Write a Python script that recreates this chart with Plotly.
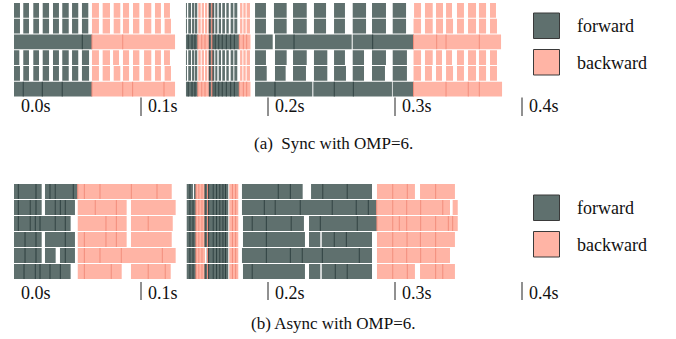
import plotly.graph_objects as go

# ---------------- data (times in ms) ----------------
rows = [1, 2, 3, 4, 5, 6]
tick_values = [0, 100, 200, 300, 400]
tick_labels = ["0.0s", "0.1s", "0.2s", "0.3s", "0.4s"]
legend_labels = ["forward", "backward"]
captions = ["(a)  Sync with OMP=6.", "(b) Async with OMP=6."]

FWD_COLOR = "#5f706e"
BWD_COLOR = "#ffb4a5"
FWD_EDGE = "#2c3e3e"
BWD_EDGE = "#f38c7a"

# dense (small-batch) section of the Sync run
sync_dense_fwd_split = [[135.4, 136.2], [137.2, 139.4], [140.2, 142.0], [142.5, 144.3],
                        [153.8, 155.7], [156.5, 157.7], [158.5, 160.1], [161.2, 163.0],
                        [164.0, 166.1], [167.2, 169.1], [170.6, 172.7], [173.5, 175.8]]
sync_dense_bwd_split = [[145.1, 147.0], [147.8, 149.6], [150.4, 152.2], [153.0, 153.8],
                        [155.7, 156.5], [178.0, 179.8], [180.6, 182.4], [183.2, 185.8]]
sync_dense_fwd_cont = [[135.4, 137.2], [137.2, 140.2], [140.2, 142.5], [142.5, 144.8],
                       [153.8, 155.7], [156.5, 158.5], [158.5, 161.2], [161.2, 164.0],
                       [164.0, 167.2], [167.2, 170.6], [170.6, 173.5], [173.5, 177.4]]
sync_dense_bwd_cont = [[144.8, 147.8], [147.8, 150.4], [150.4, 153.8], [155.7, 156.5],
                       [177.4, 180.6], [180.6, 183.2], [183.2, 186.2]]

sync_fwd = {
    1: [[0, 4.7], [7.3, 11.8], [15.2, 19.7], [22.6, 27.6], [30.7, 35.4], [38.0, 43.1], [45.7, 50.6], [53.5, 58.5]]
       + sync_dense_fwd_split
       + [[189.8, 198.4], [204.7, 214.7], [219.7, 230.5], [236.2, 245.7], [252.0, 260.6], [266.7, 277.2], [281.9, 292.9], [298.2, 308.7]],
    2: [[0, 4.7], [7.3, 11.8], [15.2, 19.7], [22.6, 27.6], [30.7, 35.4], [38.0, 43.1], [45.7, 50.6], [53.5, 58.5]]
       + sync_dense_fwd_split
       + [[189.8, 198.4], [204.7, 214.7], [219.7, 230.5], [236.2, 245.7], [252.0, 260.6], [266.7, 277.2], [281.9, 292.9], [298.2, 308.7]],
    3: [[0, 53.8], [53.8, 61.4]]
       + sync_dense_fwd_cont
       + [[189.8, 203.7], [205.5, 220.5], [220.5, 265.9], [266.7, 282.4], [282.4, 314.6]],
    4: [[0, 4.2], [7.3, 11.8], [15.2, 19.7], [22.6, 27.6], [30.7, 35.4], [38.0, 43.1], [45.7, 50.6], [53.5, 59.1]]
       + sync_dense_fwd_split
       + [[189.8, 198.4], [205.5, 214.7], [219.7, 230.5], [236.2, 246.7], [252.0, 260.6], [266.7, 275.6], [281.9, 292.9], [298.2, 309.4]],
    5: [[0, 4.7], [7.3, 11.8], [15.2, 19.7], [22.6, 27.6], [30.7, 35.4], [38.0, 43.1], [45.7, 50.6], [53.5, 59.1]]
       + sync_dense_fwd_split
       + [[189.8, 199.0], [205.5, 213.9], [219.7, 229.9], [236.2, 246.7], [252.0, 261.4], [266.7, 275.6], [281.9, 292.1], [298.2, 309.4]],
    6: [[0, 7.3], [7.3, 22.3], [22.3, 38.0], [38.0, 61.4]]
       + sync_dense_fwd_cont
       + [[189.8, 205.5], [205.5, 234.9], [235.7, 252.2], [252.2, 267.2], [267.2, 297.6], [298.2, 314.6]],
}
sync_bwd = {
    1: [[61.4, 66.9], [69.8, 75.6], [78.5, 83.7], [85.8, 90.6], [93.7, 98.7], [102.4, 108.1], [111.0, 115.7], [118.1, 122.8]]
       + sync_dense_bwd_split
       + [[315.0, 320.5], [323.6, 329.7], [332.3, 337.8], [340.2, 344.9], [348.8, 354.3], [357.5, 363.8], [366.1, 371.7], [374.8, 379.5]],
    2: [[61.4, 66.9], [69.8, 75.6], [78.5, 83.7], [85.8, 90.6], [93.7, 98.7], [102.4, 108.1], [111.0, 115.7], [118.6, 123.6]]
       + sync_dense_bwd_split
       + [[314.6, 320.5], [323.6, 329.7], [332.3, 337.8], [340.2, 345.7], [348.8, 354.3], [357.5, 363.8], [366.1, 371.7], [374.8, 380.3]],
    3: [[61.4, 85.6], [85.6, 126.8]]
       + sync_dense_bwd_cont
       + [[314.6, 332.8], [332.8, 340.2], [340.2, 366.4], [366.4, 383.5]],
    4: [[61.4, 66.9], [69.8, 75.6], [78.0, 82.7], [85.8, 90.6], [93.7, 98.7], [102.4, 108.1], [111.0, 115.7], [118.1, 122.8]]
       + sync_dense_bwd_split
       + [[314.6, 320.5], [323.6, 329.7], [332.3, 337.0], [340.2, 344.9], [348.8, 354.3], [357.5, 363.8], [366.1, 371.7], [374.8, 380.3]],
    5: [[61.4, 66.9], [69.8, 75.6], [78.5, 83.7], [85.8, 90.6], [93.7, 98.7], [102.4, 108.1], [111.0, 115.7], [118.6, 123.6]]
       + sync_dense_bwd_split
       + [[314.6, 320.5], [323.6, 329.1], [332.3, 337.0], [340.2, 345.7], [348.8, 354.3], [357.5, 363.8], [366.1, 371.7], [374.8, 380.3]],
    6: [[61.4, 85.6], [85.6, 93.4], [93.4, 118.1], [118.1, 126.8]]
       + sync_dense_bwd_cont
       + [[314.6, 340.2], [340.2, 357.7], [357.7, 366.4], [366.4, 384.3]],
}

# dense section of the Async run
async_dense_fwd = [[136.0, 138.5], [138.5, 141.0], [141.0, 143.3], [150.4, 152.4], [153.2, 156.9],
                   [156.9, 159.5], [159.5, 162.0], [162.0, 164.5], [164.5, 166.5], [166.5, 168.7]]
async_dense_fwd_r1 = [[136.0, 138.5], [138.5, 140.9], [141.7, 143.3], [150.4, 152.4], [153.2, 156.9],
                      [156.9, 159.5], [159.5, 162.0], [162.0, 164.5], [164.5, 166.5], [166.5, 168.7]]
async_dense_fwd_r5 = [[136.0, 138.5], [138.5, 141.0], [141.0, 143.3], [151.7, 152.4], [153.2, 156.9],
                      [156.9, 159.5], [159.5, 162.0], [162.0, 164.5], [164.5, 166.5], [166.5, 168.7]]
async_dense_bwd = [[143.3, 145.5], [145.5, 148.0], [148.0, 150.4], [152.4, 153.2],
                   [169.5, 172.0], [172.0, 174.5], [174.5, 176.6]]

async_fwd = {
    1: [[0, 3.4], [3.4, 17.3], [17.3, 21.8], [24.4, 28.3], [28.3, 32.5], [32.5, 46.7], [46.7, 50.2]]
       + async_dense_fwd_r1
       + [[179.5, 208.1], [208.1, 217.6], [217.6, 227.3], [233.9, 243.1], [243.1, 262.4], [262.4, 281.9]],
    2: [[0, 3.4], [3.4, 12.8], [12.8, 17.3], [17.3, 21.8], [24.4, 32.5], [32.5, 36.5], [36.5, 40.4], [40.4, 48.0]]
       + async_dense_fwd
       + [[179.5, 197.1], [197.1, 205.7], [205.7, 225.4], [225.4, 250.6], [250.6, 269.5], [269.5, 279.0], [279.0, 285.6]],
    3: [[0, 3.4], [3.4, 12.8], [12.8, 16.8], [16.8, 20.5], [20.5, 32.5], [32.5, 40.4], [40.4, 44.6]]
       + async_dense_fwd
       + [[180.3, 187.6], [187.6, 198.7], [198.7, 218.3], [218.3, 228.3], [232.3, 241.2], [241.2, 270.3], [270.3, 285.8]],
    4: [[0, 8.7], [8.7, 17.3], [17.3, 21.8], [24.4, 40.4], [40.4, 48.0]]
       + async_dense_fwd
       + [[180.3, 198.7], [198.7, 229.1], [232.3, 241.2], [242.3, 252.2], [252.2, 261.7], [261.7, 281.9]],
    5: [[0, 8.7], [8.7, 17.3], [17.3, 21.8], [24.4, 32.8], [36.2, 40.4], [40.4, 48.0]]
       + async_dense_fwd_r5
       + [[179.5, 198.7], [198.7, 217.6], [217.6, 227.0], [227.0, 242.8], [242.8, 271.9], [271.9, 281.9]],
    6: [[0, 7.9], [7.9, 16.8], [16.8, 20.5], [20.5, 28.3], [28.3, 36.5], [36.5, 44.6]]
       + async_dense_fwd
       + [[180.3, 187.6], [187.6, 229.1], [232.3, 241.2], [242.3, 253.0], [253.0, 262.4], [262.4, 281.9]],
}
async_bwd = {
    1: [[50.2, 55.4], [55.4, 67.7], [67.7, 92.4], [92.4, 112.6], [112.6, 124.2]]
       + async_dense_bwd
       + [[285.8, 298.2], [298.2, 309.7], [309.7, 315.7], [319.7, 332.0], [332.0, 347.2]],
    2: [[50.2, 64.0], [64.0, 80.6], [80.6, 88.7], [92.1, 127.3]]
       + async_dense_bwd
       + [[285.6, 298.2], [298.2, 309.2], [309.2, 320.2], [320.2, 337.6], [337.6, 343.3], [345.4, 349.4]],
    3: [[50.2, 72.4], [72.4, 80.6], [80.6, 88.7], [92.1, 105.7], [105.7, 125.0]]
       + async_dense_bwd
       + [[285.8, 298.2], [298.2, 303.4], [303.4, 309.2], [309.2, 320.2], [320.2, 332.0], [332.0, 342.0], [342.0, 345.4], [345.4, 349.4]],
    4: [[50.2, 55.4], [55.4, 72.4], [72.4, 80.6], [80.6, 88.7], [92.1, 124.2]]
       + async_dense_bwd
       + [[285.8, 298.2], [298.2, 309.5], [309.5, 320.0], [320.0, 332.0], [332.0, 347.2]],
    5: [[50.2, 55.4], [55.4, 67.7], [67.7, 84.5], [84.5, 116.8], [116.8, 127.3]]
       + async_dense_bwd
       + [[285.8, 298.2], [298.2, 309.2], [309.2, 320.2], [320.2, 332.0], [332.0, 343.3]],
    6: [[50.2, 55.4], [55.4, 76.6], [76.6, 84.8], [92.1, 105.7], [105.7, 119.1], [119.1, 123.4]]
       + async_dense_bwd
       + [[285.8, 298.2], [298.2, 309.7], [309.7, 315.7], [319.7, 332.0], [332.0, 337.6], [337.6, 347.2]],
}

# ---------------- figure ----------------
W, H = 676, 339
PX_PER_MS = 1.27
X0_PX = 14.0
x_range = [-X0_PX / PX_PER_MS, (W - X0_PX) / PX_PER_MS]

FONT = "Liberation Serif, Times New Roman, serif"
TXT = "#111111"
BAR_W = 0.93
EDGE_MS = 0.8


def add_panel(fig, fwd, bwd, xa, ya):
    for data, color in ((fwd, FWD_COLOR), (bwd, BWD_COLOR)):
        ys, xs, bs = [], [], []
        for r in rows:
            for s, e in data[r]:
                ys.append(r)
                xs.append(e - s)
                bs.append(s)
        fig.add_trace(go.Bar(y=ys, x=xs, base=bs, orientation="h", width=BAR_W,
                             marker=dict(color=color, line=dict(width=0)),
                             xaxis=xa, yaxis=ya, showlegend=False, hoverinfo="skip"))
    # darker seams where one task starts exactly as the previous one ends
    for data, color in ((fwd, FWD_EDGE), (bwd, BWD_EDGE)):
        ys, xs, bs = [], [], []
        for r in rows:
            ends = [e for _, e in fwd[r]] + [e for _, e in bwd[r]]
            for s, e in data[r]:
                if any(abs(s - q) < 0.25 for q in ends):
                    ys.append(r)
                    xs.append(EDGE_MS)
                    bs.append(s - EDGE_MS / 2)
        fig.add_trace(go.Bar(y=ys, x=xs, base=bs, orientation="h", width=BAR_W,
                             marker=dict(color=color, line=dict(width=0)),
                             xaxis=xa, yaxis=ya, showlegend=False, hoverinfo="skip"))


fig = go.Figure()
add_panel(fig, sync_fwd, sync_bwd, "x", "y")
add_panel(fig, async_fwd, async_bwd, "x2", "y2")


def py(px):
    return 1 - px / H


axis_common = dict(visible=False, showgrid=False, zeroline=False, fixedrange=True)
fig.update_layout(
    width=W, height=H,
    margin=dict(l=0, r=0, t=0, b=0),
    paper_bgcolor="white", plot_bgcolor="white",
    barmode="overlay",
    hovermode=False,
    xaxis=dict(range=x_range, domain=[0, 1], anchor="y", **axis_common),
    xaxis2=dict(range=x_range, domain=[0, 1], anchor="y2", **axis_common),
    yaxis=dict(range=[6.5, 0.5], domain=[py(97.0), py(2.5)], anchor="x", **axis_common),
    yaxis2=dict(range=[6.5, 0.5], domain=[py(279.5), py(183.5)], anchor="x2", **axis_common),
    font=dict(family=FONT, size=18, color=TXT),
)

annotations = []
shapes = []
# tick labels with leading bar
for xref, label_y, bar_top, bar_bot in (("x", 106.5, 97.5, 116.0), ("x2", 292.5, 282.0, 300.0)):
    for i, (v, lab) in enumerate(zip(tick_values, tick_labels)):
        annotations.append(dict(x=v, y=py(label_y), xref=xref, yref="paper", text=lab,
                                showarrow=False, xanchor="left", yanchor="middle", xshift=5,
                                font=dict(family=FONT, size=18, color=TXT)))
        if i > 0:
            shapes.append(dict(type="line", xref=xref, yref="paper", x0=v, x1=v,
                               y0=py(bar_top), y1=py(bar_bot),
                               line=dict(color="#222222", width=1)))

# captions
for cap, cy in zip(captions, (143.5, 323.5)):
    annotations.append(dict(x=333 / W, y=py(cy), xref="paper", yref="paper", text=cap,
                            showarrow=False, xanchor="center", yanchor="middle",
                            font=dict(family=FONT, size=17, color=TXT)))

# legends
for top_px in (13.0, 195.0):
    for k, (lab, col) in enumerate(zip(legend_labels, (FWD_COLOR, BWD_COLOR))):
        y0 = top_px + k * 36.5
        shapes.append(dict(type="rect", xref="paper", yref="paper",
                           x0=533.5 / W, x1=559.5 / W, y0=py(y0), y1=py(y0 + 25.5),
                           fillcolor=col, line=dict(color="#3a3a3a", width=1)))
        annotations.append(dict(x=575 / W, y=py(y0 + 13), xref="paper", yref="paper", text=lab,
                                showarrow=False, xanchor="left", yanchor="middle",
                                font=dict(family=FONT, size=18, color=TXT)))

fig.update_layout(annotations=annotations, shapes=shapes)
fig.write_html("out.html",
               config={"displayModeBar": False, "staticPlot": True},
               post_script="document.body.style.margin='0';document.body.style.overflow='hidden';")
